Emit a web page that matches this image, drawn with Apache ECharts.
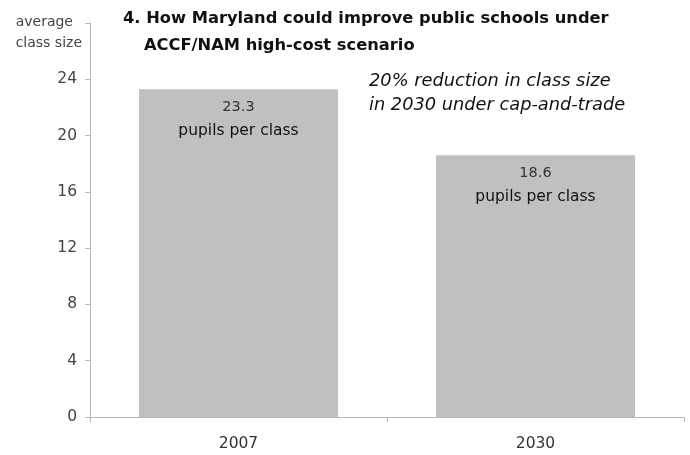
<!DOCTYPE html>
<html>
<head>
<meta charset="utf-8">
<script src="https://cdn.jsdelivr.net/npm/echarts@6/dist/echarts.min.js"></script>
<style>
  html, body { margin: 0; padding: 0; background: #fff; }
  #chart { width: 690px; height: 455px; }
</style>
</head>
<body>
<div id="chart"></div>
<script>
// Average class size, Maryland public schools
const years = ['2007', '2030'];
const classSize = [23.3, 18.6];
const yTicks = [0, 4, 8, 12, 16, 20, 24];
const unitText = 'pupils per class';

const FONT = '"DejaVu Sans", "Liberation Sans", Arial, sans-serif';

const titleStyle = {
  fontFamily: FONT,
  fontWeight: 'bold',
  fontSize: 16.3,
  color: '#111'
};

const chart = echarts.init(document.getElementById('chart'), null, { renderer: 'canvas' });

chart.setOption({
  animation: false,
  backgroundColor: '#ffffff',
  title: [
    { text: '4. How Maryland could improve public schools under', left: 118, top: 6, textStyle: titleStyle },
    { text: 'ACCF/NAM high-cost scenario', left: 139, top: 33, textStyle: titleStyle }
  ],
  grid: { left: 90, right: 6, top: 23, bottom: 38 },
  xAxis: {
    type: 'category',
    data: years,
    axisLine: { lineStyle: { color: '#b8b8b8', width: 1 } },
    axisTick: { show: true, alignWithLabel: false, length: 5, lineStyle: { color: '#b8b8b8' } },
    axisLabel: { fontFamily: FONT, fontSize: 15.5, color: '#333', margin: 19 }
  },
  yAxis: {
    type: 'value',
    min: 0,
    max: 28,
    interval: 4,
    axisLine: { show: true, lineStyle: { color: '#b8b8b8', width: 1 } },
    axisTick: { show: true, inside: false, length: 5, lineStyle: { color: '#b8b8b8' } },
    splitLine: { show: false },
    axisLabel: {
      fontFamily: FONT,
      fontSize: 15.5,
      color: '#444',
      margin: 13,
      formatter: v => (yTicks.indexOf(v) >= 0 ? String(v) : '')
    }
  },
  graphic: [
    {
      type: 'text',
      right: 608,
      top: 12,
      style: {
        text: 'average\nclass size',
        align: 'right',
        font: '14px ' + FONT,
        lineHeight: 21,
        fill: '#444'
      }
    },
    {
      type: 'text',
      left: 369,
      top: 69,
      style: {
        text: '20% reduction in class size\nin 2030 under cap-and-trade',
        font: 'italic 17.8px ' + FONT,
        lineHeight: 24,
        fill: '#111'
      }
    }
  ],
  series: [{
    type: 'bar',
    data: classSize,
    barWidth: '67%',
    itemStyle: { color: '#c0c0c0' },
    label: {
      show: true,
      position: 'insideTop',
      distance: 6,
      formatter: p => '{v|' + p.value + '}\n{u|' + unitText + '}',
      rich: {
        v: { fontFamily: FONT, fontSize: 14.5, color: '#333', lineHeight: 24, align: 'center' },
        u: { fontFamily: FONT, fontSize: 15.5, color: '#111', lineHeight: 24, align: 'center' }
      }
    }
  }]
});
</script>
</body>
</html>
